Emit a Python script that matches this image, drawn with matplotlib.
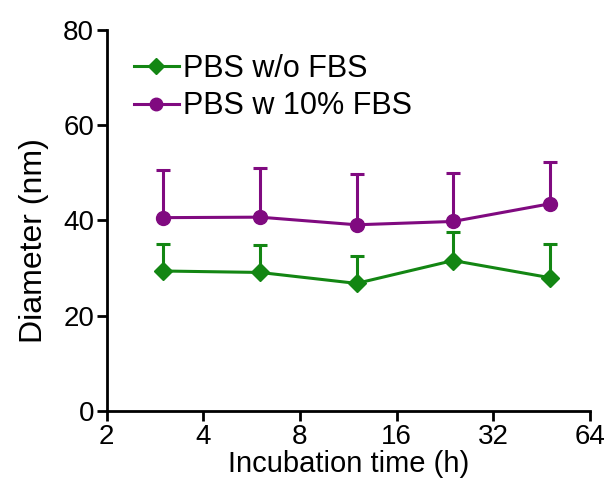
import matplotlib
matplotlib.use("Agg")
import matplotlib.pyplot as plt
import numpy as np

plt.rcParams['font.family'] = ['Liberation Sans', 'DejaVu Sans']

hours = [3, 6, 12, 24, 48]
no_fbs = [29.4, 29.1, 26.8, 31.6, 28.0]
no_fbs_err = [5.7, 5.8, 5.7, 6.0, 7.1]
fbs10 = [40.6, 40.7, 39.1, 39.8, 43.5]
fbs10_err = [10.1, 10.4, 10.7, 10.2, 8.8]
xticks = [2, 4, 8, 16, 32, 64]
yticks = [0, 20, 40, 60, 80]

green = '#138613'
purple = '#800a80'

fig = plt.figure(figsize=(6.1, 4.9), dpi=100)
ax = fig.add_axes([0.175, 0.161, 0.792, 0.778])

ax.errorbar(hours, no_fbs, yerr=[np.zeros(5), no_fbs_err], color=green, marker='D',
            markersize=9, lw=2.2, capsize=5, capthick=2.2, elinewidth=2.2, label='PBS w/o FBS')
ax.errorbar(hours, fbs10, yerr=[np.zeros(5), fbs10_err], color=purple, marker='o',
            markersize=10, lw=2.2, capsize=5, capthick=2.2, elinewidth=2.2, label='PBS w 10% FBS')

ax.set_xscale('log', base=2)
ax.set_xlim(2, 64)
ax.set_ylim(0, 80)
ax.set_xticks(xticks)
ax.set_xticklabels([str(t) for t in xticks])
ax.set_yticks(yticks)
ax.minorticks_off()

for s in ['top', 'right']:
    ax.spines[s].set_visible(False)
for s in ['left', 'bottom']:
    ax.spines[s].set_linewidth(2)
ax.tick_params(direction='out', length=7, width=2, labelsize=20, pad=2)

ax.set_xlabel('Incubation time (h)', fontsize=21, labelpad=0)
ax.set_ylabel('Diameter (nm)', fontsize=23, labelpad=10)
ax.yaxis.label.set_y(0.447)

handles, labels = ax.get_legend_handles_labels()
handles = [h[0] for h in handles]
ax.legend(handles, labels, loc='upper left', bbox_to_anchor=(0.0, 1.01), frameon=False,
          fontsize=22, handlelength=1.45, handletextpad=0.15, labelspacing=0.25, markerscale=0.9)

fig.savefig('out.png', dpi=100)
